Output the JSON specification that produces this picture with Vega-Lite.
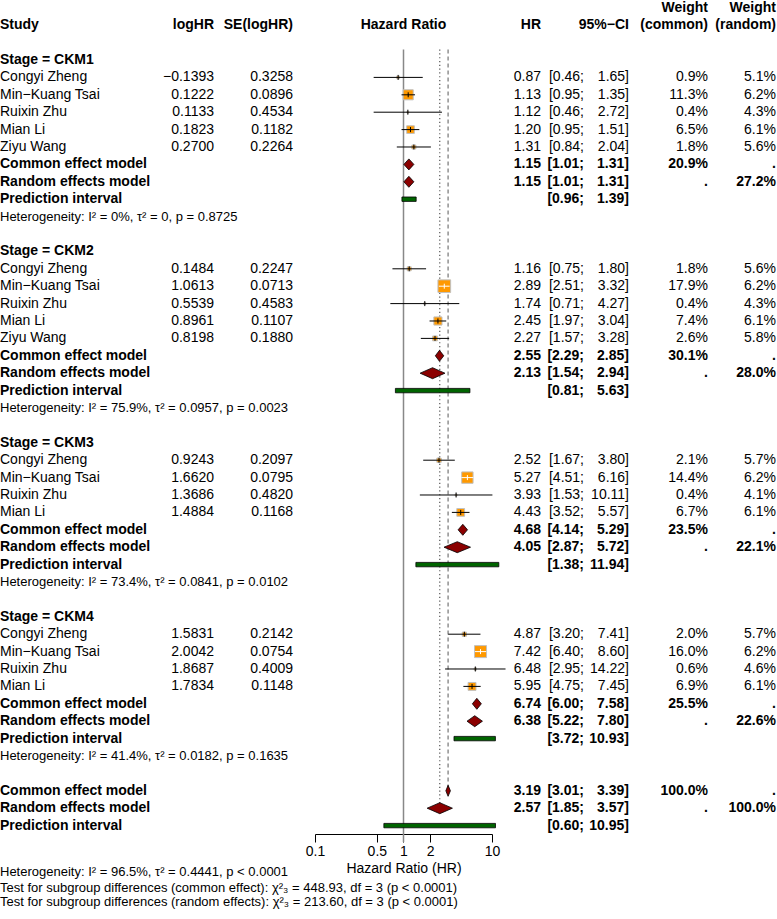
{
  "$schema": "https://vega.github.io/schema/vega-lite/v6.json",
  "padding": {"left": 0, "top": 0, "right": 1, "bottom": 0},
  "background": "white",
  "spacing": 0,
  "bounds": "flush",
  "config": {
    "font": "Liberation Sans",
    "view": {"stroke": null},
    "axisY": {"disable": true},
    "text": {"fontSize": 14, "baseline": "middle", "color": "black"},
    "axisX": {
      "grid": false, "domainColor": "black", "domainWidth": 1, "tickColor": "black", "tickWidth": 1,
      "tickSize": 8, "labelFontSize": 14, "labelColor": "black", "labelPadding": 2,
      "titleFontSize": 14, "titleFontWeight": "normal", "titleColor": "black", "titlePadding": 3, "labelFlush": false
    }
  },
  "datasets": {
    "hdr": [
      {"row": -2, "col": "study", "text": "Study"},
      {"row": -2, "col": "loghr", "text": "logHR"},
      {"row": -2, "col": "se", "text": "SE(logHR)"},
      {"row": -2, "col": "forest", "text": "Hazard Ratio"},
      {"row": -2, "col": "hr", "text": "HR"},
      {"row": -2, "col": "ci", "text": "95%−CI"},
      {"row": -3, "col": "wc", "text": "Weight"},
      {"row": -2, "col": "wc", "text": "(common)"},
      {"row": -3, "col": "wr", "text": "Weight"},
      {"row": -2, "col": "wr", "text": "(random)"}
    ],
    "tab": [
      {"row": 0, "kind": "stage", "group": "CKM1", "label": "Stage = CKM1"},
      {"row": 1, "kind": "study", "group": "CKM1", "label": "Congyi Zheng", "loghr": -0.1393, "se": 0.3258, "hr": 0.87, "lo": 0.46, "hi": 1.65, "wc": 0.9, "wr": 5.1},
      {"row": 2, "kind": "study", "group": "CKM1", "label": "Min−Kuang Tsai", "loghr": 0.1222, "se": 0.0896, "hr": 1.13, "lo": 0.95, "hi": 1.35, "wc": 11.3, "wr": 6.2},
      {"row": 3, "kind": "study", "group": "CKM1", "label": "Ruixin Zhu", "loghr": 0.1133, "se": 0.4534, "hr": 1.12, "lo": 0.46, "hi": 2.72, "wc": 0.4, "wr": 4.3},
      {"row": 4, "kind": "study", "group": "CKM1", "label": "Mian Li", "loghr": 0.1823, "se": 0.1182, "hr": 1.20, "lo": 0.95, "hi": 1.51, "wc": 6.5, "wr": 6.1},
      {"row": 5, "kind": "study", "group": "CKM1", "label": "Ziyu Wang", "loghr": 0.2700, "se": 0.2264, "hr": 1.31, "lo": 0.84, "hi": 2.04, "wc": 1.8, "wr": 5.6},
      {"row": 6, "kind": "common", "group": "CKM1", "label": "Common effect model", "hr": 1.15, "lo": 1.01, "hi": 1.31, "wc": 20.9},
      {"row": 7, "kind": "random", "group": "CKM1", "label": "Random effects model", "hr": 1.15, "lo": 1.01, "hi": 1.31, "wr": 27.2},
      {"row": 8, "kind": "pred", "group": "CKM1", "label": "Prediction interval", "lo": 0.96, "hi": 1.39},
      {"row": 9, "kind": "het", "group": "CKM1", "label": "Heterogeneity: I² = 0%, τ² = 0, p = 0.8725"},

      {"row": 11, "kind": "stage", "group": "CKM2", "label": "Stage = CKM2"},
      {"row": 12, "kind": "study", "group": "CKM2", "label": "Congyi Zheng", "loghr": 0.1484, "se": 0.2247, "hr": 1.16, "lo": 0.75, "hi": 1.80, "wc": 1.8, "wr": 5.6},
      {"row": 13, "kind": "study", "group": "CKM2", "label": "Min−Kuang Tsai", "loghr": 1.0613, "se": 0.0713, "hr": 2.89, "lo": 2.51, "hi": 3.32, "wc": 17.9, "wr": 6.2},
      {"row": 14, "kind": "study", "group": "CKM2", "label": "Ruixin Zhu", "loghr": 0.5539, "se": 0.4583, "hr": 1.74, "lo": 0.71, "hi": 4.27, "wc": 0.4, "wr": 4.3},
      {"row": 15, "kind": "study", "group": "CKM2", "label": "Mian Li", "loghr": 0.8961, "se": 0.1107, "hr": 2.45, "lo": 1.97, "hi": 3.04, "wc": 7.4, "wr": 6.1},
      {"row": 16, "kind": "study", "group": "CKM2", "label": "Ziyu Wang", "loghr": 0.8198, "se": 0.1880, "hr": 2.27, "lo": 1.57, "hi": 3.28, "wc": 2.6, "wr": 5.8},
      {"row": 17, "kind": "common", "group": "CKM2", "label": "Common effect model", "hr": 2.55, "lo": 2.29, "hi": 2.85, "wc": 30.1},
      {"row": 18, "kind": "random", "group": "CKM2", "label": "Random effects model", "hr": 2.13, "lo": 1.54, "hi": 2.94, "wr": 28.0},
      {"row": 19, "kind": "pred", "group": "CKM2", "label": "Prediction interval", "lo": 0.81, "hi": 5.63},
      {"row": 20, "kind": "het", "group": "CKM2", "label": "Heterogeneity: I² = 75.9%, τ² = 0.0957, p = 0.0023"},

      {"row": 22, "kind": "stage", "group": "CKM3", "label": "Stage = CKM3"},
      {"row": 23, "kind": "study", "group": "CKM3", "label": "Congyi Zheng", "loghr": 0.9243, "se": 0.2097, "hr": 2.52, "lo": 1.67, "hi": 3.80, "wc": 2.1, "wr": 5.7},
      {"row": 24, "kind": "study", "group": "CKM3", "label": "Min−Kuang Tsai", "loghr": 1.6620, "se": 0.0795, "hr": 5.27, "lo": 4.51, "hi": 6.16, "wc": 14.4, "wr": 6.2},
      {"row": 25, "kind": "study", "group": "CKM3", "label": "Ruixin Zhu", "loghr": 1.3686, "se": 0.4820, "hr": 3.93, "lo": 1.53, "hi": 10.11, "wc": 0.4, "wr": 4.1},
      {"row": 26, "kind": "study", "group": "CKM3", "label": "Mian Li", "loghr": 1.4884, "se": 0.1168, "hr": 4.43, "lo": 3.52, "hi": 5.57, "wc": 6.7, "wr": 6.1},
      {"row": 27, "kind": "common", "group": "CKM3", "label": "Common effect model", "hr": 4.68, "lo": 4.14, "hi": 5.29, "wc": 23.5},
      {"row": 28, "kind": "random", "group": "CKM3", "label": "Random effects model", "hr": 4.05, "lo": 2.87, "hi": 5.72, "wr": 22.1},
      {"row": 29, "kind": "pred", "group": "CKM3", "label": "Prediction interval", "lo": 1.38, "hi": 11.94},
      {"row": 30, "kind": "het", "group": "CKM3", "label": "Heterogeneity: I² = 73.4%, τ² = 0.0841, p = 0.0102"},

      {"row": 32, "kind": "stage", "group": "CKM4", "label": "Stage = CKM4"},
      {"row": 33, "kind": "study", "group": "CKM4", "label": "Congyi Zheng", "loghr": 1.5831, "se": 0.2142, "hr": 4.87, "lo": 3.20, "hi": 7.41, "wc": 2.0, "wr": 5.7},
      {"row": 34, "kind": "study", "group": "CKM4", "label": "Min−Kuang Tsai", "loghr": 2.0042, "se": 0.0754, "hr": 7.42, "lo": 6.40, "hi": 8.60, "wc": 16.0, "wr": 6.2},
      {"row": 35, "kind": "study", "group": "CKM4", "label": "Ruixin Zhu", "loghr": 1.8687, "se": 0.4009, "hr": 6.48, "lo": 2.95, "hi": 14.22, "wc": 0.6, "wr": 4.6},
      {"row": 36, "kind": "study", "group": "CKM4", "label": "Mian Li", "loghr": 1.7834, "se": 0.1148, "hr": 5.95, "lo": 4.75, "hi": 7.45, "wc": 6.9, "wr": 6.1},
      {"row": 37, "kind": "common", "group": "CKM4", "label": "Common effect model", "hr": 6.74, "lo": 6.00, "hi": 7.58, "wc": 25.5},
      {"row": 38, "kind": "random", "group": "CKM4", "label": "Random effects model", "hr": 6.38, "lo": 5.22, "hi": 7.80, "wr": 22.6},
      {"row": 39, "kind": "pred", "group": "CKM4", "label": "Prediction interval", "lo": 3.72, "hi": 10.93},
      {"row": 40, "kind": "het", "group": "CKM4", "label": "Heterogeneity: I² = 41.4%, τ² = 0.0182, p = 0.1635"},

      {"row": 42, "kind": "common", "group": "Overall", "label": "Common effect model", "hr": 3.19, "lo": 3.01, "hi": 3.39, "wc": 100.0},
      {"row": 43, "kind": "random", "group": "Overall", "label": "Random effects model", "hr": 2.57, "lo": 1.85, "hi": 3.57, "wr": 100.0},
      {"row": 44, "kind": "pred", "group": "Overall", "label": "Prediction interval", "lo": 0.60, "hi": 10.95},
      {"row": 46.667, "kind": "het", "group": "Overall", "label": "Heterogeneity: I² = 96.5%, τ² = 0.4441, p < 0.0001"},
      {"row": 47.586, "kind": "test", "group": "Overall", "label": "Test for subgroup differences (common effect): χ²₃ = 448.93, df = 3 (p < 0.0001)"},
      {"row": 48.39, "kind": "test", "group": "Overall", "label": "Test for subgroup differences (random effects): χ²₃ = 213.60, df = 3 (p < 0.0001)"}
    ]
  },
  "hconcat": [
    {
      "width": 150, "height": 832,
      "layer": [
        {
          "data": {"name": "hdr"}, "transform": [{"filter": "datum.col == 'study'"}],
          "mark": {"type": "text", "align": "left", "fontWeight": "bold"},
          "encoding": {"x": {"value": 0}, "y": {"field": "row", "type": "quantitative", "scale": {"domain": [-3.3333, 44.4828], "reverse": true, "nice": false, "zero": false}, "axis": null}, "text": {"field": "text"}}
        },
        {
          "data": {"name": "tab"}, "transform": [{"filter": "datum.kind != 'het' && datum.kind != 'test'"}],
          "mark": {"type": "text", "align": "left", "fontWeight": {"expr": "datum.kind == 'study' ? 'normal' : 'bold'"}},
          "encoding": {"x": {"value": 0}, "y": {"field": "row", "type": "quantitative", "axis": null}, "text": {"field": "label"}}
        },
        {
          "data": {"name": "tab"}, "transform": [{"filter": "datum.kind == 'het' || datum.kind == 'test'"}],
          "mark": {"type": "text", "align": "left", "fontSize": 13},
          "encoding": {"x": {"value": 0}, "y": {"field": "row", "type": "quantitative", "axis": null}, "text": {"field": "label"}}
        }
      ]
    },
    {
      "width": 64, "height": 832,
      "layer": [
        {
          "data": {"name": "hdr"}, "transform": [{"filter": "datum.col == 'loghr'"}],
          "mark": {"type": "text", "align": "right", "fontWeight": "bold"},
          "encoding": {"x": {"value": "width"}, "y": {"field": "row", "type": "quantitative", "scale": {"domain": [-3.3333, 44.4828], "reverse": true, "nice": false, "zero": false}, "axis": null}, "text": {"field": "text"}}
        },
        {
          "data": {"name": "tab"}, "transform": [{"filter": "datum.kind == 'study'"}],
          "mark": {"type": "text", "align": "right"},
          "encoding": {"x": {"value": "width"}, "y": {"field": "row", "type": "quantitative", "axis": null}, "text": {"field": "loghr", "type": "quantitative", "format": ".4f"}}
        }
      ]
    },
    {
      "width": 101, "height": 832,
      "layer": [
        {
          "data": {"name": "hdr"}, "transform": [{"filter": "datum.col == 'se'"}],
          "mark": {"type": "text", "align": "right", "fontWeight": "bold", "dx": -22},
          "encoding": {"x": {"value": "width"}, "y": {"field": "row", "type": "quantitative", "scale": {"domain": [-3.3333, 44.4828], "reverse": true, "nice": false, "zero": false}, "axis": null}, "text": {"field": "text"}}
        },
        {
          "data": {"name": "tab"}, "transform": [{"filter": "datum.kind == 'study'"}],
          "mark": {"type": "text", "align": "right", "dx": -22},
          "encoding": {"x": {"value": "width"}, "y": {"field": "row", "type": "quantitative", "axis": null}, "text": {"field": "se", "type": "quantitative", "format": ".4f"}}
        }
      ]
    },
    {
      "width": 177, "height": 832,
      "layer": [
        {
          "data": {"name": "tab"}, "transform": [{"filter": "datum.kind == 'common' && datum.group == 'Overall'"}],
          "mark": {"type": "rule", "color": "#888888", "strokeWidth": 1.5},
          "encoding": {
            "x": {"datum": 1, "type": "quantitative", "scale": {"type": "log", "domain": [0.1, 10], "nice": false}, "axis": {"values": [0.1, 0.5, 1, 2, 10], "format": "~g"}, "title": "Hazard Ratio (HR)"},
            "y": {"datum": -0.6, "type": "quantitative", "scale": {"domain": [-3.3333, 44.4828], "reverse": true, "nice": false, "zero": false}, "axis": null},
            "y2": {"datum": 44.94}
          }
        },
        {
          "data": {"name": "tab"}, "transform": [{"filter": "datum.kind == 'common' && datum.group == 'Overall'"}],
          "mark": {"type": "rule", "color": "#808080", "strokeWidth": 1.3, "strokeDash": [4, 3]},
          "encoding": {
            "x": {"field": "hr", "type": "quantitative", "title": "Hazard Ratio (HR)"},
            "y": {"datum": -0.6, "type": "quantitative", "axis": null},
            "y2": {"datum": 42}
          }
        },
        {
          "data": {"name": "tab"}, "transform": [{"filter": "datum.kind == 'random' && datum.group == 'Overall'"}],
          "mark": {"type": "rule", "color": "#444444", "strokeWidth": 1.1, "strokeDash": [1.2, 2.6]},
          "encoding": {
            "x": {"field": "hr", "type": "quantitative", "title": "Hazard Ratio (HR)"},
            "y": {"datum": -0.6, "type": "quantitative", "axis": null},
            "y2": {"datum": 43}
          }
        },
        {
          "data": {"name": "tab"}, "transform": [{"filter": "datum.kind == 'study'"}],
          "mark": {"type": "point", "shape": "square", "filled": true, "fill": "#FF9900", "stroke": "#C0C0C0", "strokeWidth": 1, "opacity": 1, "fillOpacity": 1, "strokeOpacity": 1},
          "encoding": {
            "x": {"field": "hr", "type": "quantitative", "title": "Hazard Ratio (HR)"},
            "y": {"field": "row", "type": "quantitative", "axis": null},
            "size": {"field": "wc", "type": "quantitative", "scale": {"type": "linear", "domain": [0, 20], "range": [0, 180]}, "legend": null}
          }
        },
        {
          "data": {"name": "tab"}, "transform": [{"filter": "datum.kind == 'study'"}],
          "mark": {"type": "rule", "strokeWidth": 1},
          "encoding": {
            "x": {"field": "lo", "type": "quantitative", "title": "Hazard Ratio (HR)"},
            "x2": {"field": "hi"},
            "y": {"field": "row", "type": "quantitative", "axis": null},
            "color": {"condition": {"test": "datum.wc >= 14", "value": "white"}, "value": "black"}
          }
        },
        {
          "data": {"name": "tab"}, "transform": [{"filter": "datum.kind == 'study'"}],
          "mark": {"type": "rule", "strokeWidth": 1, "yOffset": -2.5, "y2Offset": 2.5},
          "encoding": {
            "x": {"field": "hr", "type": "quantitative", "title": "Hazard Ratio (HR)"},
            "y": {"field": "row", "type": "quantitative", "axis": null},
            "y2": {"field": "row"},
            "color": {"condition": {"test": "datum.wc >= 14", "value": "white"}, "value": "black"}
          }
        },
        {
          "data": {"name": "tab"},
          "transform": [
            {"filter": "datum.kind == 'common' || datum.kind == 'random'"},
            {"fold": ["lo", "hr", "hi"], "as": ["part", "v"]}
          ],
          "mark": {"type": "area", "orient": "vertical", "fill": "#8B0000", "fillOpacity": 1, "opacity": 1, "stroke": "black", "strokeWidth": 0.8,
                   "yOffset": {"expr": "datum.part == 'hr' ? -5.5 : 0"}, "y2Offset": {"expr": "datum.part == 'hr' ? 5.5 : 0"}},
          "encoding": {
            "x": {"field": "v", "type": "quantitative", "title": "Hazard Ratio (HR)"},
            "y": {"field": "row", "type": "quantitative", "axis": null},
            "y2": {"field": "row"},
            "detail": {"field": "row", "type": "nominal"}
          }
        },
        {
          "data": {"name": "tab"}, "transform": [{"filter": "datum.kind == 'pred'"}],
          "mark": {"type": "rect", "fill": "#006400", "stroke": "black", "strokeWidth": 0.8, "yOffset": -2.2, "y2Offset": 2.2},
          "encoding": {
            "x": {"field": "lo", "type": "quantitative", "title": "Hazard Ratio (HR)"},
            "x2": {"field": "hi"},
            "y": {"field": "row", "type": "quantitative", "axis": null},
            "y2": {"field": "row"}
          }
        },
        {
          "data": {"name": "hdr"}, "transform": [{"filter": "datum.col == 'forest'"}],
          "mark": {"type": "text", "align": "center", "fontWeight": "bold"},
          "encoding": {
            "x": {"datum": 1, "type": "quantitative", "title": "Hazard Ratio (HR)"},
            "y": {"field": "row", "type": "quantitative", "axis": null},
            "text": {"field": "text"}
          }
        }
      ]
    },
    {
      "width": 49, "height": 832,
      "layer": [
        {
          "data": {"name": "hdr"}, "transform": [{"filter": "datum.col == 'hr'"}],
          "mark": {"type": "text", "align": "right", "fontWeight": "bold"},
          "encoding": {"x": {"value": "width"}, "y": {"field": "row", "type": "quantitative", "scale": {"domain": [-3.3333, 44.4828], "reverse": true, "nice": false, "zero": false}, "axis": null}, "text": {"field": "text"}}
        },
        {
          "data": {"name": "tab"}, "transform": [{"filter": "datum.kind == 'study' || datum.kind == 'common' || datum.kind == 'random'"}],
          "mark": {"type": "text", "align": "right", "fontWeight": {"expr": "datum.kind == 'study' ? 'normal' : 'bold'"}},
          "encoding": {"x": {"value": "width"}, "y": {"field": "row", "type": "quantitative", "axis": null}, "text": {"field": "hr", "type": "quantitative", "format": ".2f"}}
        }
      ]
    },
    {
      "width": 43, "height": 832,
      "layer": [
        {
          "data": {"name": "tab"}, "transform": [{"filter": "datum.kind == 'study' || datum.kind == 'common' || datum.kind == 'random' || datum.kind == 'pred'"}],
          "mark": {"type": "text", "align": "right", "text": {"expr": "'[' + format(datum.lo, '.2f') + ';'"}, "fontWeight": {"expr": "datum.kind == 'study' ? 'normal' : 'bold'"}},
          "encoding": {"x": {"value": "width"}, "y": {"field": "row", "type": "quantitative", "scale": {"domain": [-3.3333, 44.4828], "reverse": true, "nice": false, "zero": false}, "axis": null}}
        }
      ]
    },
    {
      "width": 45, "height": 832,
      "layer": [
        {
          "data": {"name": "hdr"}, "transform": [{"filter": "datum.col == 'ci'"}],
          "mark": {"type": "text", "align": "right", "fontWeight": "bold"},
          "encoding": {"x": {"value": "width"}, "y": {"field": "row", "type": "quantitative", "scale": {"domain": [-3.3333, 44.4828], "reverse": true, "nice": false, "zero": false}, "axis": null}, "text": {"field": "text"}}
        },
        {
          "data": {"name": "tab"}, "transform": [{"filter": "datum.kind == 'study' || datum.kind == 'common' || datum.kind == 'random' || datum.kind == 'pred'"}],
          "mark": {"type": "text", "align": "right", "text": {"expr": "format(datum.hi, '.2f') + ']'"}, "fontWeight": {"expr": "datum.kind == 'study' ? 'normal' : 'bold'"}},
          "encoding": {"x": {"value": "width"}, "y": {"field": "row", "type": "quantitative", "axis": null}}
        }
      ]
    },
    {
      "width": 79, "height": 832,
      "layer": [
        {
          "data": {"name": "hdr"}, "transform": [{"filter": "datum.col == 'wc'"}],
          "mark": {"type": "text", "align": "right", "fontWeight": "bold"},
          "encoding": {"x": {"value": "width"}, "y": {"field": "row", "type": "quantitative", "scale": {"domain": [-3.3333, 44.4828], "reverse": true, "nice": false, "zero": false}, "axis": null}, "text": {"field": "text"}}
        },
        {
          "data": {"name": "tab"}, "transform": [{"filter": "datum.kind == 'study' || datum.kind == 'common' || datum.kind == 'random'"}],
          "mark": {"type": "text", "align": "right", "text": {"expr": "isValid(datum.wc) ? format(datum.wc, '.1f') + '%' : '.'"}, "fontWeight": {"expr": "datum.kind == 'study' ? 'normal' : 'bold'"}},
          "encoding": {"x": {"value": "width"}, "y": {"field": "row", "type": "quantitative", "axis": null}}
        }
      ]
    },
    {
      "width": 68, "height": 832,
      "layer": [
        {
          "data": {"name": "hdr"}, "transform": [{"filter": "datum.col == 'wr'"}],
          "mark": {"type": "text", "align": "right", "fontWeight": "bold"},
          "encoding": {"x": {"value": "width"}, "y": {"field": "row", "type": "quantitative", "scale": {"domain": [-3.3333, 44.4828], "reverse": true, "nice": false, "zero": false}, "axis": null}, "text": {"field": "text"}}
        },
        {
          "data": {"name": "tab"}, "transform": [{"filter": "datum.kind == 'study' || datum.kind == 'common' || datum.kind == 'random'"}],
          "mark": {"type": "text", "align": "right", "text": {"expr": "isValid(datum.wr) ? format(datum.wr, '.1f') + '%' : '.'"}, "fontWeight": {"expr": "datum.kind == 'study' ? 'normal' : 'bold'"}},
          "encoding": {"x": {"value": "width"}, "y": {"field": "row", "type": "quantitative", "axis": null}}
        }
      ]
    }
  ]
}
